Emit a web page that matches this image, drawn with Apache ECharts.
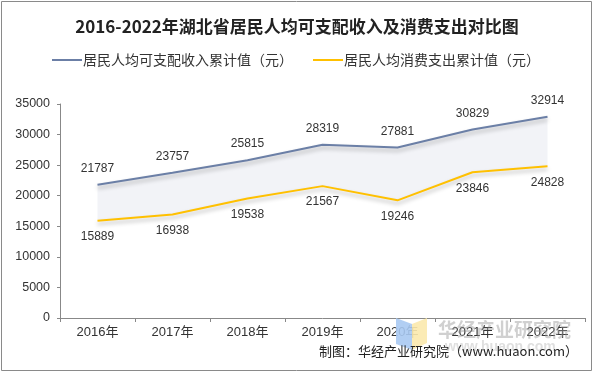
<!DOCTYPE html>
<html><head><meta charset="utf-8">
<script src="https://cdn.jsdelivr.net/npm/echarts@6/dist/echarts.min.js"></script>
<style>html,body{margin:0;padding:0;background:#fff}#c{width:594px;height:374px}</style>
</head><body><div id="c"></div>
<script>
const categories = ['2016年','2017年','2018年','2019年','2020年','2021年','2022年'];
const income = [21787, 23757, 25815, 28319, 27881, 30829, 32914];
const consumption = [15889, 16938, 19538, 21567, 19246, 23846, 24828];
const seriesNames = ['居民人均可支配收入累计值（元）', '居民人均消费支出累计值（元）'];
const yTicks = {min: 0, max: 35000, interval: 5000};

const band = income.map((v, i) => v - consumption[i]);
const chart = echarts.init(document.getElementById('c'));
const lblFont = {fontFamily: 'Arial, Liberation Sans, sans-serif', fontSize: 12, color: '#333'};
const shadow = {shadowColor: 'rgba(0,0,0,0.28)', shadowBlur: 4, shadowOffsetY: 3};
chart.setOption({
  animation: false,
  title: {
    text: '2016-2022年湖北省居民人均可支配收入及消费支出对比图',
    left: 'center', top: 13,
    textStyle: {fontFamily: 'Noto Sans CJK SC, serif', fontSize: 17, fontWeight: 'bold', color: '#222'}
  },
  legend: {
    top: 48, left: 47, itemGap: 20, itemWidth: 30, itemHeight: 2,
    data: [
      {name: seriesNames[0], icon: 'rect'},
      {name: seriesNames[1], icon: 'rect'}
    ],
    textStyle: {fontFamily: 'Noto Sans CJK SC, sans-serif', fontSize: 14, color: '#333', padding: [0,0,0,-4]}
  },
  grid: {left: 60, right: 9, top: 104, bottom: 56},
  xAxis: {
    type: 'category', data: categories, boundaryGap: true,
    axisLine: {lineStyle: {color: '#888'}},
    axisTick: {show: true, length: 4, lineStyle: {color: '#888'}},
    axisLabel: {...lblFont, fontSize: 13, fontFamily: 'Arial, Noto Sans CJK SC, sans-serif', margin: 8}
  },
  yAxis: {
    type: 'value', min: yTicks.min, max: yTicks.max, interval: yTicks.interval,
    splitLine: {show: false},
    axisLine: {show: true, lineStyle: {color: '#888'}},
    axisTick: {show: true, length: 3, lineStyle: {color: '#888'}},
    axisLabel: {...lblFont, fontSize: 12.5, margin: 10, formatter: v => String(v)}
  },
  series: [
    {name: 'base', type: 'line', stack: 'band', data: consumption, symbol: 'none',
     lineStyle: {opacity: 0}, silent: true, z: 1},
    {name: 'bandArea', type: 'line', stack: 'band', data: band, symbol: 'none',
     lineStyle: {opacity: 0}, areaStyle: {color: '#f2f3f7', opacity: 1}, silent: true, z: 1},
    {name: seriesNames[0], type: 'line', data: income, symbol: 'circle', symbolSize: 0, showSymbol: true,
     itemStyle: {color: '#6b7fa6'},
     lineStyle: {color: '#6b7fa6', width: 2, ...shadow},
     label: {show: true, position: 'top', distance: 10, ...lblFont}, z: 3},
    {name: seriesNames[1], type: 'line', data: consumption, symbol: 'circle', symbolSize: 0, showSymbol: true,
     itemStyle: {color: '#ffc000'},
     lineStyle: {color: '#ffc000', width: 2, ...shadow},
     label: {show: true, position: 'bottom', distance: 10, ...lblFont}, z: 3}
  ],
  graphic: [
    {type: 'rect', shape: {x: 1.5, y: 1.5, width: 590, height: 369}, style: {fill: 'none', stroke: '#8a8a8a', lineWidth: 1}, z: 0, silent: true},
    {type: 'polygon', shape: {points: [[396,318],[412,324],[412,350],[396,344]]}, style: {fill: '#a9c9f2', opacity: 0.9}, z: 5},
    {type: 'polygon', shape: {points: [[412,324],[427,318],[427,343],[412,350]]}, style: {fill: '#fbe9ad', opacity: 0.9}, z: 5},
    {type: 'text', left: 438, top: 320, style: {text: '华经产业研究院', font: 'bold 19px Noto Sans CJK SC, sans-serif', fill: 'rgba(150,150,150,0.45)'}, z: 5},
    {type: 'text', left: 445, top: 340, style: {text: 'www.huaon.com', font: 'bold 14px Arial, sans-serif', fill: 'rgba(150,150,150,0.3)'}, z: 5},
    {type: 'text', right: 16, top: 345, style: {text: '制图：华经产业研究院（www.huaon.com）', font: '13px Noto Sans CJK SC, sans-serif', fill: '#222'}, z: 6}
  ]
});
</script></body></html>
